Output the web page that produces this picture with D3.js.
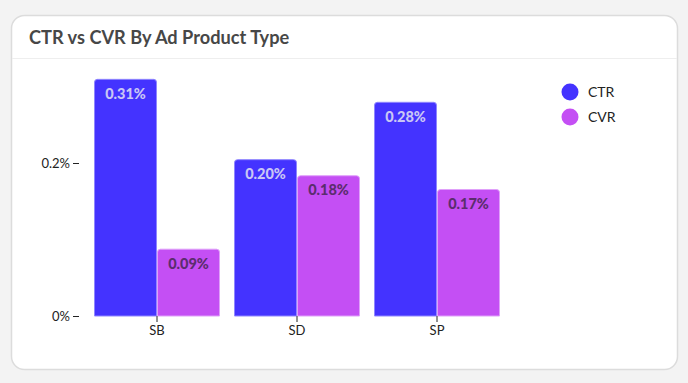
<!DOCTYPE html>
<html><head><meta charset="utf-8">
<script src="https://cdn.jsdelivr.net/npm/d3@7"></script>
<style>
html,body{margin:0;padding:0;background:#f3f3f3;}
svg{display:block;font-family:Lato, sans-serif;}
</style></head>
<body><svg id="c" width="688" height="383"></svg>
<script>
const categories = ["SB","SD","SP"];
const seriesNames = ["CTR","CVR"];
const ctrValues = [0.31, 0.205, 0.28];
const cvrValues = [0.088, 0.184, 0.166];
const ctrLabels = ["0.31%","0.20%","0.28%"];
const cvrLabels = ["0.09%","0.18%","0.17%"];
const yTicks = [0, 0.2];
const yTickLabels = ["0%","0.2%"];
const colors = {CTR:"#4433ff", CVR:"#c44ff4"};

const svg = d3.select("#c");
svg.append("rect").attr("x",11.5).attr("y",15.5).attr("width",666).attr("height",354)
  .attr("rx",13).attr("fill","#fff").attr("stroke","#dcdcdc").attr("stroke-width",1.5);
svg.append("text").attr("x",29).attr("y",44).attr("font-size",18.2).attr("font-weight",700)
  .attr("fill","#474747").text("CTR vs CVR By Ad Product Type");
svg.append("line").attr("x1",12).attr("x2",677).attr("y1",58.5).attr("y2",58.5).attr("stroke","#eeeeee");

const x = d3.scaleBand().domain(categories).range([87,507]).paddingInner(0.1).paddingOuter(0.05);
const xs = d3.scaleBand().domain(seriesNames).range([0,x.bandwidth()]);
const y = d3.scaleLinear().domain([0,0.2]).range([316,163]);

const data = categories.map((c,i)=>({cat:c, vals:[
  {s:"CTR", v:ctrValues[i], label:ctrLabels[i]},
  {s:"CVR", v:cvrValues[i], label:cvrLabels[i]}]}));

function topRounded(x0,y0,w,h,r){
  r=Math.min(r,h,w/2);
  return `M${x0},${y0+h}V${y0+r}Q${x0},${y0} ${x0+r},${y0}H${x0+w-r}Q${x0+w},${y0} ${x0+w},${y0+r}V${y0+h}Z`;
}

const g = svg.append("g");
const groups = g.selectAll("g.cat").data(data).join("g").attr("transform",d=>`translate(${x(d.cat)},0)`);
groups.selectAll("path").data(d=>d.vals).join("path")
  .attr("d",d=>topRounded(xs(d.s)+0.5,y(d.v)+0.5,xs.bandwidth()-1,y(0)-y(d.v)-0.5,3))
  .attr("fill",d=>colors[d.s]).attr("stroke",d=>d.s==="CTR"?"#8f86ff":"#e0a0fa").attr("stroke-width",1);
groups.selectAll("text").data(d=>d.vals).join("text")
  .attr("x",d=>xs(d.s)+xs.bandwidth()/2).attr("y",d=>y(d.v)+20)
  .attr("text-anchor","middle").attr("font-size",14.5).attr("font-weight",900)
  .attr("fill",d=>d.s==="CTR"?"#c9c6f5":"#5b2d6e").text(d=>d.label);

// y axis
const yAxis = d3.axisLeft(y).tickValues(yTicks).tickFormat((d,i)=>yTickLabels[i]).tickSize(6).tickPadding(3);
const ya = svg.append("g").attr("transform","translate(79,0)").call(yAxis);
ya.select(".domain").remove();
ya.selectAll("text").attr("font-family","Lato, sans-serif").attr("font-size",13).attr("fill","#222");
ya.selectAll("line").attr("stroke","#222");

// x axis
const xAxis = d3.axisBottom(x).tickSize(6).tickPadding(4);
const xa = svg.append("g").attr("transform","translate(0,316)").call(xAxis);
xa.select(".domain").remove();
xa.selectAll("text").attr("font-family","Lato, sans-serif").attr("font-size",13).attr("fill","#222");
xa.selectAll("line").attr("stroke","#222");

// legend
const lg = svg.append("g").selectAll("g").data(seriesNames).join("g")
  .attr("transform",(d,i)=>`translate(570,${92+i*25})`);
lg.append("circle").attr("r",8.5).attr("fill",d=>colors[d]);
lg.append("text").attr("x",18).attr("y",5).attr("font-size",14).attr("fill","#222").text(d=>d);
</script></body></html>
